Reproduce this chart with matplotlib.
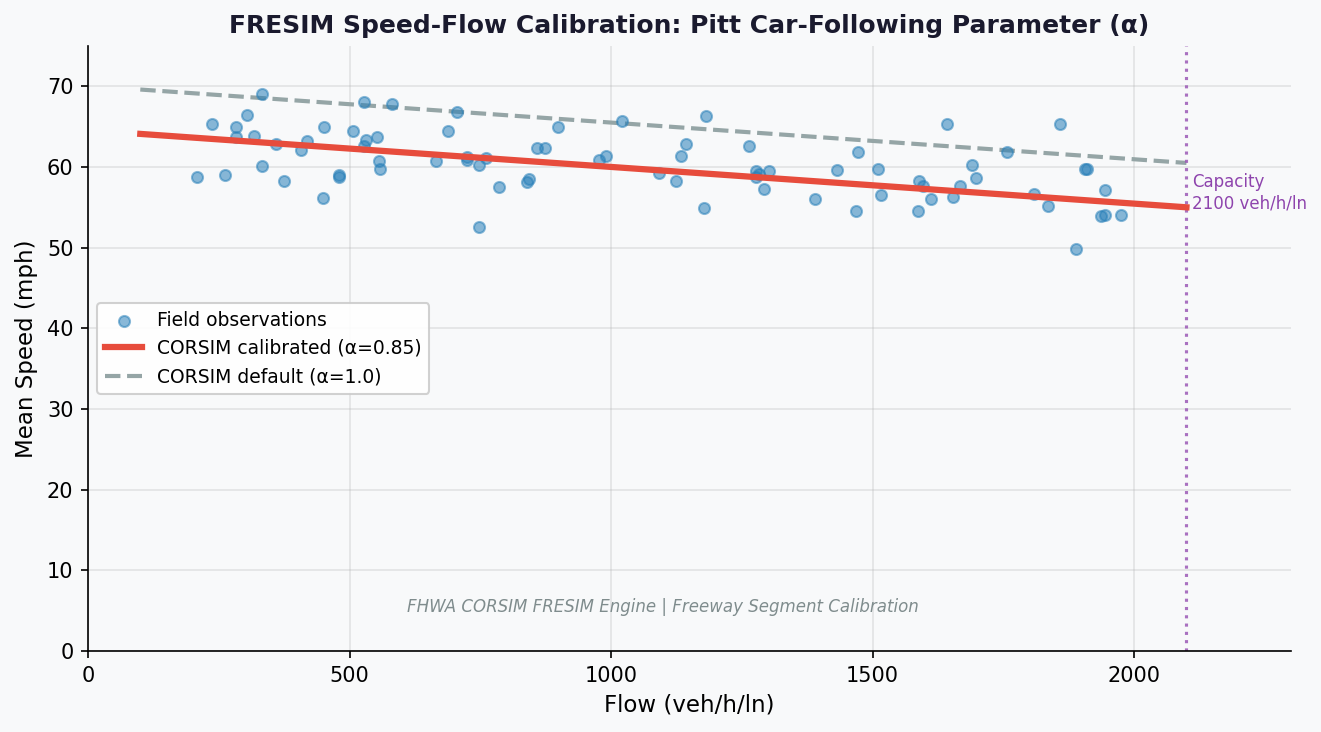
import matplotlib
matplotlib.use("Agg")
import matplotlib.pyplot as plt
import numpy as np

# field observations
flow_obs = [208, 237, 262, 283, 283, 304, 317, 332, 332, 359, 374, 407, 418, 450, 452,
            479, 479, 506, 527, 527, 531, 552, 556, 558, 581, 665, 688, 705, 724, 724,
            747, 747, 760, 785, 840, 844, 858, 873, 898, 976, 991, 1020, 1091, 1125, 1134,
            1144, 1177, 1182, 1264, 1278, 1278, 1283, 1293, 1301, 1390, 1431, 1469, 1472, 1511, 1516,
            1587, 1589, 1597, 1612, 1643, 1654, 1667, 1690, 1698, 1757, 1809, 1835, 1858, 1889, 1906,
            1910, 1937, 1944, 1944, 1975]
speed_obs = [58.7, 65.3, 59.0, 64.9, 63.7, 66.5, 63.9, 69.0, 60.1, 62.8, 58.2, 62.1, 63.2, 56.1, 65.0,
             59.0, 58.7, 64.5, 68.0, 62.6, 63.3, 63.7, 60.8, 59.7, 67.8, 60.8, 64.5, 66.8, 60.9, 61.2,
             60.3, 52.5, 61.1, 57.5, 58.1, 58.5, 62.4, 62.3, 65.0, 60.9, 61.4, 65.7, 59.3, 58.2, 61.3,
             62.8, 54.9, 66.3, 62.6, 59.5, 58.7, 59.1, 57.3, 59.5, 56.0, 59.6, 54.6, 61.9, 59.8, 56.5,
             54.6, 58.2, 57.6, 56.0, 65.3, 56.3, 57.7, 60.2, 58.6, 61.8, 56.7, 55.2, 65.3, 49.8, 59.8,
             59.8, 53.9, 54.0, 57.1, 54.1]

# model lines (endpoints)
flow_line = [100, 2100]
speed_calibrated = [64.1, 55.0]
speed_default = [69.6, 60.5]
capacity = 2100

BG = "#f8f9fa"

fig = plt.figure(figsize=(8.807, 4.88), dpi=150, facecolor=BG)
ax = fig.add_axes([0.0666, 0.1107, 0.9107, 0.8265])
ax.set_facecolor(BG)

ax.scatter(flow_obs, speed_obs, s=28, color="#2980b9", alpha=0.55,
           edgecolors="#2980b9", linewidth=1.0, label="Field observations", zorder=3)
ax.plot(flow_line, speed_calibrated, color="#e74c3c", linewidth=3,
        label="CORSIM calibrated (α=0.85)", zorder=4)
ax.plot(flow_line, speed_default, color="#95a5a6", linewidth=2, linestyle="--",
        label="CORSIM default (α=1.0)", zorder=2)
ax.axvline(capacity, color="#9b59b6", linestyle=":", linewidth=1.5, alpha=0.85)
ax.text(capacity + 10, 56.8, f"Capacity\n{capacity} veh/h/ln", color="#8e44ad",
        fontsize=8, va="center", ha="left")
ax.text(1100, 5.5, "FHWA CORSIM FRESIM Engine | Freeway Segment Calibration",
        ha="center", va="center", fontsize=8, style="italic", color="#7f8c8d")

ax.set_xlim(0, 2300)
ax.set_ylim(0, 75)
ax.set_xticks([0, 500, 1000, 1500, 2000])
ax.set_xlabel("Flow (veh/h/ln)", fontsize=11)
ax.set_ylabel("Mean Speed (mph)", fontsize=11)
ax.set_title("FRESIM Speed-Flow Calibration: Pitt Car-Following Parameter (α)",
             fontsize=12, fontweight="bold", color="#1a1a2e")
ax.grid(alpha=0.3)
ax.spines["top"].set_visible(False)
ax.spines["right"].set_visible(False)
ax.legend(loc="center left", fontsize=9, facecolor="white", framealpha=0.9)

fig.savefig("out.png", dpi=150, facecolor=BG)
